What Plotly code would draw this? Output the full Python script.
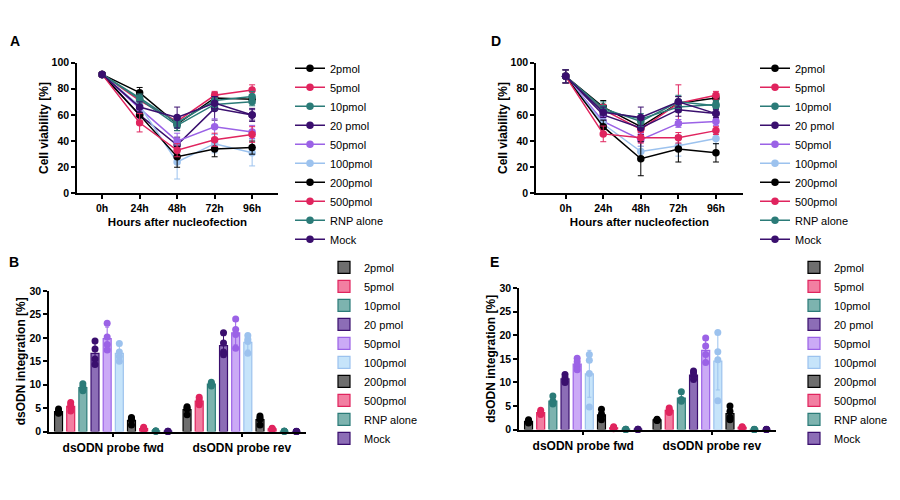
import numpy as np
import plotly.graph_objects as go

FONT = "Liberation Sans, Arial, sans-serif"
W, H = 900, 500

# ---------------- data ----------------
timepoints = ["0h", "24h", "48h", "72h", "96h"]
series_names = ["2pmol", "5pmol", "10pmol", "20 pmol", "50pmol", "100pmol",
                "200pmol", "500pmol", "RNP alone", "Mock"]
probe_labels = ["dsODN probe fwd", "dsODN probe rev"]

# Panel A: cell viability mean / SD
viab_A_mean = [
    [91, 77, 53, 73, 72],
    [91, 71, 55, 75, 79],
    [91, 73, 54, 71, 74],
    [91, 60, 37, 65, 60],
    [91, 65, 40, 51, 47],
    [91, 67, 24, 38, 31],
    [91, 60, 28, 34, 35],
    [91, 54, 33, 41, 45],
    [91, 72, 52, 68, 70],
    [91, 66, 58, 69, 60],
]
viab_A_sd = [
    [1, 4, 5, 4, 3],
    [1, 4, 4, 3, 4],
    [1, 3, 4, 3, 4],
    [1, 6, 6, 9, 5],
    [1, 5, 6, 6, 5],
    [1, 5, 13, 7, 10],
    [1, 5, 8, 6, 5],
    [1, 7, 5, 5, 6],
    [1, 3, 4, 4, 3],
    [1, 4, 8, 5, 4],
]

# Panel D: cell viability mean / SD
viab_D_mean = [
    [89.5, 66, 51, 69, 73],
    [89.5, 64, 49, 69, 75],
    [89.5, 63, 57, 66, 68],
    [89.5, 60, 50, 64, 61],
    [89.5, 55, 41, 53.5, 55],
    [89.5, 53, 32, 36.5, 42],
    [89.5, 51, 26.5, 34, 31],
    [89.5, 45.5, 42.5, 42.5, 48],
    [89.5, 65, 55, 70, 67],
    [89.5, 62, 58, 70, 61],
]
viab_D_sd = [
    [5, 5, 4, 5, 3],
    [5, 4, 4, 14, 3],
    [5, 4, 4, 4, 3],
    [5, 4, 5, 5, 4],
    [5, 4, 5, 3, 3],
    [5, 4, 4, 8, 4],
    [5, 5, 13, 10, 7],
    [5, 6, 4, 4, 3],
    [5, 5, 4, 5, 3],
    [5, 4, 8, 4, 3],
]

# Panel B: dsODN integration replicate points
integ_B_fwd = [
    [4.8, 4.4, 4.0, 3.9], [6.2, 5.7, 5.2, 4.4], [10.2, 9.6, 9.0, 8.7],
    [19.3, 17.6, 15.5, 14.3], [23.1, 20.2, 18.6, 17.4], [18.8, 17.0, 16.0, 15.0],
    [3.0, 2.8, 2.4, 1.4], [0.9, 0.7, 0.5, 0.4], [0.12, 0.1, 0.08, 0.06],
    [0.05, 0.04, 0.03, 0.02],
]
integ_B_rev = [
    [5.3, 5.0, 4.8, 3.6], [7.3, 6.8, 6.1, 5.7], [10.5, 10.2, 10.0, 9.7],
    [21.1, 18.9, 17.0, 16.4], [24.0, 21.8, 20.7, 17.8], [20.5, 19.7, 19.2, 16.7],
    [3.3, 2.9, 2.6, 1.4], [0.7, 0.6, 0.5, 0.4], [0.08, 0.06, 0.05, 0.04],
    [0.04, 0.03, 0.03, 0.02],
]
# Panel E
integ_E_fwd = [
    [2.1, 1.8, 1.6, 1.4], [4.1, 3.7, 3.5, 3.2], [7.1, 6.0, 5.7, 5.4],
    [11.7, 11.0, 10.3, 10.0], [15.1, 14.4, 13.4, 12.7], [15.9, 14.7, 11.9, 4.8],
    [4.3, 3.3, 2.8, 2.1], [0.6, 0.4, 0.3, 0.2], [0.06, 0.05, 0.04, 0.03],
    [0.06, 0.05, 0.04, 0.03],
]
integ_E_rev = [
    [2.2, 2.1, 2.0, 1.9], [4.6, 4.2, 3.9, 3.6], [8.0, 6.4, 6.2, 6.0],
    [12.4, 12.0, 11.3, 10.6], [19.4, 17.7, 15.9, 14.2], [20.6, 16.5, 14.8, 6.1],
    [5.0, 3.9, 2.6, 2.1], [0.6, 0.5, 0.4, 0.3], [0.05, 0.04, 0.03, 0.03],
    [0.05, 0.04, 0.04, 0.03],
]

line_colors = ["#000000", "#E0245E", "#2B7B78", "#3A0F6E", "#9B62E6",
               "#9CC2EE", "#000000", "#E0245E", "#2B7B78", "#3A0F6E"]
bar_fills = ["#6E6E6E", "#F27FA2", "#7DB3AF", "#8C6DB6", "#CBAAF6",
             "#C6E4FA", "#6E6E6E", "#F27FA2", "#7DB3AF", "#8C6DB6"]

# ---------------- figure ----------------
fig = go.Figure()

def px(x):
    return x / W

def py(y):
    return 1 - y / H

def add_lines(means, sds, xa, ya, leg):
    for i, name in enumerate(series_names):
        fig.add_trace(go.Scatter(
            x=timepoints, y=means[i], name=name, mode="lines+markers",
            xaxis=xa, yaxis=ya, legend=leg,
            line=dict(color=line_colors[i], width=1.5),
            marker=dict(color=line_colors[i], size=7.5),
            error_y=dict(type="data", array=sds[i], color=line_colors[i],
                         thickness=1, width=3),
            cliponaxis=False,
        ))

slot = 0.0946
bw = 0.062

def add_bars(fwd, rev, xa, ya, leg):
    n = len(series_names)
    for i, name in enumerate(series_names):
        off = (i - (n - 1) / 2) * slot
        pts = [fwd[i], rev[i]]
        means = [float(np.mean(p)) for p in pts]
        sds = [float(np.std(p, ddof=1)) for p in pts]
        xs = [g + off for g in range(2)]
        fig.add_trace(go.Bar(
            x=xs, y=means, width=bw, name=name, xaxis=xa, yaxis=ya, legend=leg,
            marker=dict(color=bar_fills[i], line=dict(color=line_colors[i], width=1.2)),
            error_y=dict(type="data", array=sds, color=line_colors[i],
                         thickness=1, width=2),
        ))
        sx, sy = [], []
        for g in range(2):
            for v in pts[g]:
                sx.append(xs[g])
                sy.append(v)
        fig.add_trace(go.Scatter(
            x=sx, y=sy, mode="markers", xaxis=xa, yaxis=ya, showlegend=False,
            marker=dict(color=line_colors[i], size=7), cliponaxis=False,
            hoverinfo="skip",
        ))

add_lines(viab_A_mean, viab_A_sd, "x", "y", "legend")
add_lines(viab_D_mean, viab_D_sd, "x2", "y2", "legend2")
add_bars(integ_B_fwd, integ_B_rev, "x3", "y3", "legend3")
add_bars(integ_E_fwd, integ_E_rev, "x4", "y4", "legend4")

tickfont = dict(family=FONT, size=10.5, color="black", weight="bold")
titlefont = dict(family=FONT, size=11.5, color="black", weight="bold")
ytitlefont = dict(family=FONT, size=12, color="black", weight="bold")
catfont = dict(family=FONT, size=12, color="black", weight="bold")

def ax_common():
    return dict(showline=True, linecolor="black", linewidth=1.5, ticks="outside",
                ticklen=4, tickwidth=1.5, tickcolor="black", showgrid=False,
                zeroline=False, tickfont=tickfont)

line_x = dict(type="category", categoryarray=timepoints,
              title=dict(text="Hours after nucleofection", font=titlefont, standoff=5))
line_y = dict(range=[0, 100], tickvals=[0, 20, 40, 60, 80, 100],
              title=dict(text="Cell viability [%]", font=ytitlefont, standoff=0))
bar_y = dict(range=[0, 30], tickvals=[0, 5, 10, 15, 20, 25, 30],
             title=dict(text="dsODN integration [%]", font=ytitlefont, standoff=1))

def bar_x():
    d = ax_common()
    d.update(range=[-0.5, 1.5], tickvals=[0, 1], ticktext=probe_labels, tickfont=catfont)
    return d

fig.update_layout(
    xaxis=dict(**ax_common(), **line_x, domain=[px(77), px(278)], range=[-0.67, 4.69], anchor="y"),
    yaxis=dict(**ax_common(), **line_y, domain=[py(192), py(58)], anchor="x"),
    xaxis2=dict(**ax_common(), **line_x, domain=[px(536), px(743)], range=[-0.79, 4.72], anchor="y2"),
    yaxis2=dict(**ax_common(), **line_y, domain=[py(192), py(58)], anchor="x2"),
    xaxis3=dict(**bar_x(), domain=[px(49), px(306)], anchor="y3"),
    yaxis3=dict(**ax_common(), **bar_y, domain=[py(436), py(292)], anchor="x3"),
    xaxis4=dict(**bar_x(), domain=[px(519), px(776)], anchor="y4"),
    yaxis4=dict(**ax_common(), **bar_y, domain=[py(434), py(289)], anchor="x4"),
)

legfont = dict(family=FONT, size=11, color="black")
def leg(x, y):
    return dict(x=px(x), y=py(y), xanchor="left", yanchor="top", font=legfont,
                bgcolor="rgba(0,0,0,0)", tracegroupgap=0)

fig.update_layout(
    legend=leg(290, 49), legend2=leg(755, 49), legend3=leg(324, 253), legend4=leg(794, 253),
    barmode="overlay",
    width=W, height=H, margin=dict(l=0, r=0, t=0, b=0),
    paper_bgcolor="white", plot_bgcolor="white",
    font=dict(family=FONT, color="black"),
)

letterfont = dict(family=FONT, size=14, color="black", weight="bold")
for txt, x, y in [("A", 15, 36), ("D", 496, 36), ("B", 14, 262), ("E", 494, 262)]:
    fig.add_annotation(text=txt, x=px(x), y=py(y), xref="paper", yref="paper",
                       showarrow=False, font=letterfont, xanchor="center", yanchor="middle")

fig.write_html("out.html", config={"displayModeBar": False},
               post_script="document.body.style.margin='0';")
